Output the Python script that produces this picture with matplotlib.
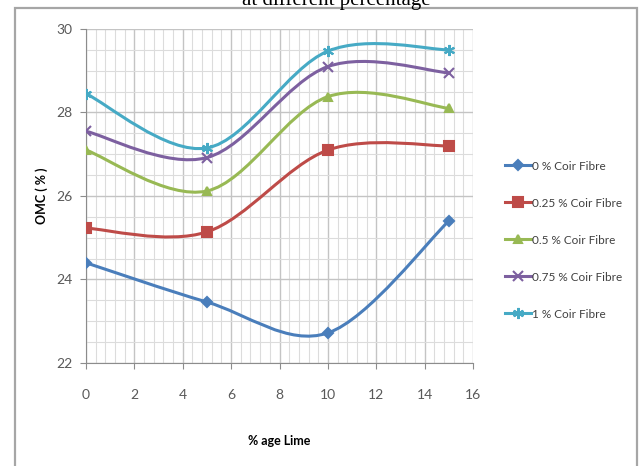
import numpy as np
import matplotlib.pyplot as plt
from matplotlib.path import Path
from matplotlib.patches import PathPatch, Rectangle
from matplotlib.ticker import MultipleLocator

# OMC values at each lime content, one series per coir fibre content
lime = [0, 5, 10, 15]
omc_0 = [24.4, 23.46, 22.72, 25.4]
omc_025 = [25.23, 25.14, 27.1, 27.2]
omc_05 = [27.1, 26.12, 28.38, 28.1]
omc_075 = [27.55, 26.92, 29.1, 28.95]
omc_1 = [28.45, 27.15, 29.47, 29.5]

labels = ["0 % Coir Fibre", "0.25 % Coir Fibre", "0.5 % Coir Fibre",
          "0.75 % Coir Fibre", "1 % Coir Fibre"]
colors = ["#4A7EBB", "#BE4B48", "#98B954", "#7D60A0", "#46AAC5"]
markers = ["D", "s", "^", "x", (6, 2, 0)]
msizes = [5, 7, 6, 7, 8]

plt.rcParams['font.family'] = ['Lato', 'DejaVu Sans']


def smooth_path(xs, ys, k=1/6.):
    # cubic bezier through the points, Catmull-Rom style tangents
    p = np.column_stack([xs, ys]).astype(float)
    n = len(p)
    verts = [p[0]]
    codes = [Path.MOVETO]
    for i in range(n - 1):
        prev = p[i - 1] if i > 0 else p[i]
        nxt = p[i + 2] if i + 2 < n else p[i + 1]
        c1 = p[i] + (p[i + 1] - prev) * k
        c2 = p[i + 1] - (nxt - p[i]) * k
        verts += [c1, c2, p[i + 1]]
        codes += [Path.CURVE4] * 3
    return Path(verts, codes)


fig = plt.figure(figsize=(6.4, 4.66), dpi=100)
ax = fig.add_axes([86/640, 1 - 363/466, 387/640, 334/466])

series = [omc_0, omc_025, omc_05, omc_075, omc_1]
for vals, lab, c, m, ms in zip(series, labels, colors, markers, msizes):
    ax.add_patch(PathPatch(smooth_path(lime, vals), fill=False,
                           edgecolor=c, lw=2.2, zorder=3))
    ax.plot(lime, vals, ls="none", marker=m, ms=ms, color=c,
            mec=c, mew=1.5, zorder=4)
    # legend proxy
    ax.plot([], [], color=c, lw=2.2, marker=m, ms=ms, mec=c, mew=1.5, label=lab)

ax.set_xlim(0, 16)
ax.set_ylim(22, 30)
ax.xaxis.set_major_locator(MultipleLocator(2))
ax.xaxis.set_minor_locator(MultipleLocator(0.4))
ax.yaxis.set_major_locator(MultipleLocator(2))
ax.yaxis.set_minor_locator(MultipleLocator(0.5))
ax.grid(which="major", color="#c4c4c4", lw=1.0)
ax.grid(which="minor", color="#dcdcdc", lw=0.8)
ax.set_axisbelow(True)

for s in ["top", "right"]:
    ax.spines[s].set_visible(False)
for s in ["left", "bottom"]:
    ax.spines[s].set_color("#8c8c8c")
ax.tick_params(which="major", length=4, color="#8c8c8c", labelsize=10,
               labelcolor="#595959")
ax.tick_params(axis="x", which="major", pad=15)
ax.tick_params(axis="y", which="major", pad=6)
ax.tick_params(which="minor", length=0)

ax.set_xlabel("% age Lime", fontsize=9, fontweight="bold", labelpad=24)
ax.set_ylabel("OMC ( % )", fontsize=9, fontweight="bold", labelpad=6)

fig.legend(loc="upper left", bbox_to_anchor=(494/640, 1 - 150/466),
           frameon=False, fontsize=8.5, handlelength=2.2, labelspacing=2.2,
           handletextpad=0.1, labelcolor="#404040")

# outer chart border and the caption line above it
fig.add_artist(Rectangle((15/640, -0.02), 622/640, 1 - 8/466 + 0.02,
                         transform=fig.transFigure, fill=False,
                         edgecolor="#a6a6a6", lw=1.6))
fig.text(0.525, 1.0, "at different percentage", ha="center", va="center",
         fontsize=15, family="Liberation Serif")

fig.savefig("out.png", dpi=100)
